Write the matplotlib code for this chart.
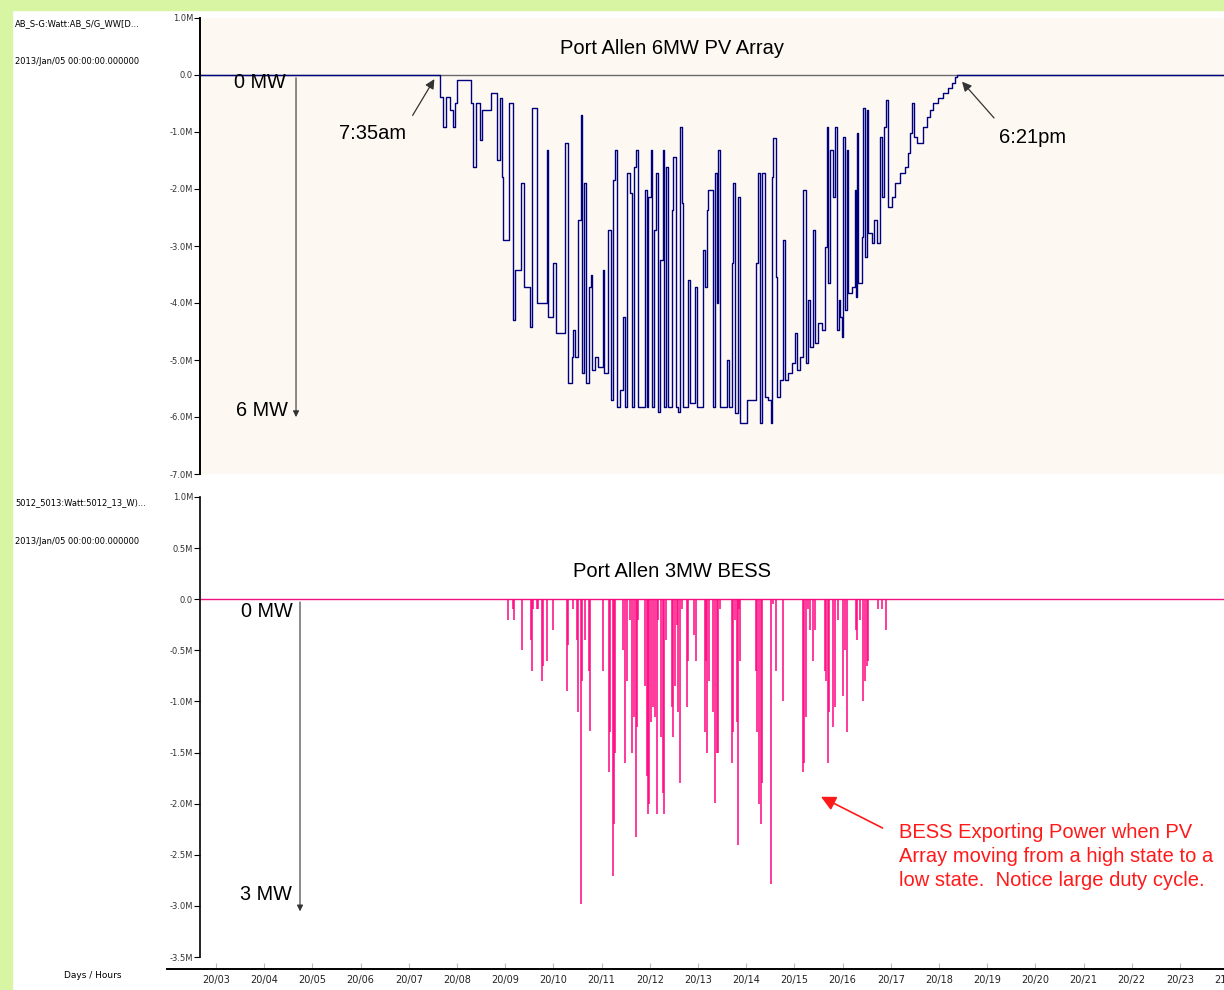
import matplotlib
matplotlib.use('Agg')
import matplotlib.pyplot as plt
from matplotlib.patches import Rectangle

# PV array output (MW, negative = generation)
pv_hour = [2.67, 7.585, 7.647, 7.710, 7.772, 7.855, 7.917, 7.959, 8.000, 8.249,
           8.290, 8.332, 8.394, 8.477, 8.519, 8.705, 8.830, 8.892, 8.934, 8.954,
           9.079, 9.162, 9.203, 9.328, 9.390, 9.515, 9.556, 9.660, 9.867, 9.888,
           9.992, 10.054, 10.178, 10.241, 10.303, 10.386, 10.407, 10.448, 10.510, 10.573,
           10.593, 10.635, 10.676, 10.739, 10.780, 10.801, 10.863, 10.925, 11.029, 11.050,
           11.133, 11.195, 11.237, 11.278, 11.320, 11.382, 11.444, 11.486, 11.527, 11.589,
           11.631, 11.672, 11.714, 11.755, 11.838, 11.900, 11.942, 11.963, 12.025, 12.046,
           12.087, 12.129, 12.170, 12.212, 12.274, 12.295, 12.336, 12.378, 12.461, 12.481,
           12.544, 12.585, 12.627, 12.668, 12.689, 12.793, 12.834, 12.938, 12.979, 13.104,
           13.145, 13.187, 13.207, 13.290, 13.311, 13.353, 13.394, 13.415, 13.456, 13.602,
           13.643, 13.705, 13.726, 13.768, 13.830, 13.871, 13.934, 14.017, 14.141, 14.203,
           14.245, 14.286, 14.328, 14.390, 14.452, 14.515, 14.535, 14.556, 14.618, 14.639,
           14.701, 14.763, 14.805, 14.867, 14.950, 15.012, 15.054, 15.116, 15.178, 15.241,
           15.282, 15.324, 15.386, 15.427, 15.490, 15.573, 15.635, 15.676, 15.697, 15.739,
           15.801, 15.842, 15.884, 15.925, 15.946, 15.988, 16.008, 16.050, 16.091, 16.112,
           16.195, 16.257, 16.278, 16.299, 16.320, 16.402, 16.423, 16.465, 16.506, 16.527,
           16.610, 16.651, 16.714, 16.776, 16.817, 16.859, 16.900, 16.942, 17.025, 17.087,
           17.191, 17.295, 17.357, 17.398, 17.440, 17.481, 17.544, 17.627, 17.668, 17.751,
           17.813, 17.876, 17.979, 18.083, 18.187, 18.270, 18.332, 18.373, 23.95]
pv_mw = [0.0, 0.0, -0.39, -0.91, -0.39, -0.61, -0.91, -0.49, -0.09, -0.09,
         -0.49, -1.61, -0.49, -1.14, -0.61, -0.32, -1.49, -0.40, -1.79, -2.89,
         -0.49, -4.30, -3.42, -1.89, -3.72, -4.42, -0.58, -4.00, -1.32, -4.25,
         -3.30, -4.53, -4.53, -1.19, -5.40, -4.95, -4.47, -4.95, -2.54, -0.70,
         -5.23, -1.89, -5.40, -3.72, -3.51, -5.18, -4.95, -5.12, -3.42, -5.23,
         -2.72, -5.70, -1.84, -1.32, -5.82, -5.53, -4.25, -5.82, -1.72, -2.07,
         -5.82, -1.61, -1.32, -5.82, -5.82, -2.02, -5.82, -2.14, -1.32, -5.82,
         -2.72, -1.72, -5.91, -3.25, -1.32, -5.82, -1.61, -5.82, -2.37, -1.44,
         -5.82, -5.91, -0.91, -2.25, -5.82, -3.60, -5.76, -3.72, -5.82, -3.07,
         -3.72, -2.37, -2.02, -2.02, -5.82, -1.72, -4.00, -1.32, -5.82, -5.00,
         -5.82, -3.30, -1.89, -5.93, -2.14, -6.10, -6.10, -5.70, -5.70, -3.30,
         -1.72, -6.10, -1.72, -5.65, -5.70, -6.10, -1.79, -1.11, -3.54, -5.65,
         -5.35, -2.89, -5.35, -5.23, -5.05, -4.53, -5.18, -4.95, -2.02, -5.05,
         -3.95, -4.77, -2.72, -4.70, -4.35, -4.47, -3.02, -0.91, -3.65, -1.32,
         -2.14, -0.91, -4.47, -3.95, -4.25, -4.60, -1.09, -4.12, -1.32, -3.82,
         -3.72, -2.02, -3.89, -1.02, -3.65, -2.84, -0.58, -3.19, -0.61, -2.77,
         -2.95, -2.54, -2.95, -1.09, -2.14, -0.91, -0.44, -2.32, -2.14, -1.89,
         -1.72, -1.61, -1.37, -1.02, -0.49, -1.09, -1.19, -1.19, -0.91, -0.74,
         -0.61, -0.49, -0.40, -0.32, -0.23, -0.14, -0.04, 0.0, 0.0]

# BESS export spikes (MW)
bess_hour = [9.058, 9.162, 9.183, 9.349, 9.535, 9.556, 9.577, 9.660, 9.680, 9.763,
             9.784, 9.867, 9.992, 10.282, 10.303, 10.407, 10.490, 10.510, 10.573, 10.593,
             10.656, 10.739, 10.759, 11.029, 11.154, 11.174, 11.237, 11.257, 11.278, 11.444,
             11.486, 11.527, 11.589, 11.631, 11.672, 11.714, 11.735, 11.755, 11.900, 11.942,
             11.963, 11.983, 12.025, 12.066, 12.108, 12.149, 12.170, 12.232, 12.274, 12.295,
             12.336, 12.461, 12.481, 12.523, 12.564, 12.585, 12.627, 12.668, 12.772, 12.793,
             12.917, 12.959, 13.145, 13.166, 13.187, 13.228, 13.311, 13.353, 13.394, 13.415,
             13.456, 13.705, 13.726, 13.768, 13.809, 13.830, 13.851, 13.871, 14.203, 14.224,
             14.266, 14.307, 14.328, 14.515, 14.556, 14.618, 14.763, 15.178, 15.199, 15.241,
             15.282, 15.324, 15.386, 15.427, 15.635, 15.656, 15.697, 15.718, 15.801, 15.842,
             15.905, 16.008, 16.050, 16.091, 16.278, 16.299, 16.361, 16.423, 16.465, 16.506,
             16.527, 16.734, 16.817, 16.900]
bess_mw = [-0.2, -0.1, -0.2, -0.5, -0.4, -0.7, -0.1, -0.1, -0.1, -0.8,
           -0.65, -0.6, -0.3, -0.9, -0.45, -0.1, -0.4, -1.1, -2.98, -0.8,
           -0.4, -0.7, -1.29, -0.7, -1.69, -1.3, -2.71, -2.2, -1.5, -0.5,
           -1.6, -0.8, -0.2, -1.5, -1.15, -2.33, -1.25, -0.2, -0.85, -1.73,
           -2.1, -2.0, -1.2, -1.05, -1.15, -2.1, -0.2, -1.35, -1.9, -2.1,
           -0.4, -1.05, -1.35, -0.85, -0.25, -1.1, -1.8, -0.1, -1.05, -0.6,
           -0.35, -0.6, -1.3, -0.6, -1.5, -0.8, -1.1, -1.99, -1.5, -1.5,
           -0.1, -1.6, -1.3, -0.2, -1.2, -2.4, -0.1, -0.6, -0.7, -1.3,
           -2.0, -2.2, -1.8, -2.79, -0.05, -0.7, -1.0, -1.69, -1.6, -1.15,
           -0.1, -0.3, -0.6, -0.3, -0.7, -0.8, -1.6, -1.1, -1.25, -1.05,
           -0.2, -0.95, -0.5, -1.3, -0.3, -0.4, -0.2, -1.0, -0.8, -0.65,
           -0.6, -0.1, -0.1, -0.3]

hours = list(range(3, 24))
hour_labels = ['20/%02d' % h for h in hours]
pv_yticks = [1, 0, -1, -2, -3, -4, -5, -6, -7]
pv_ylabels = ['1.0M', '0.0', '-1.0M', '-2.0M', '-3.0M', '-4.0M', '-5.0M', '-6.0M', '-7.0M']
bess_yticks = [1.0, 0.5, 0.0, -0.5, -1.0, -1.5, -2.0, -2.5, -3.0, -3.5]
bess_ylabels = ['1.0M', '0.5M', '0.0', '-0.5M', '-1.0M', '-1.5M', '-2.0M', '-2.5M', '-3.0M', '-3.5M']

plt.rcParams['font.family'] = ['Liberation Sans', 'DejaVu Sans']
small = ['Liberation Sans Narrow', 'DejaVu Sans']

W, H = 1224, 990
fig = plt.figure(figsize=(12.24, 9.9), dpi=100)
fig.patches.append(Rectangle((0, 0), 12 / W, 1, transform=fig.transFigure, color='#d8f5a4', zorder=0))
fig.patches.append(Rectangle((0, 1 - 10 / H), 1, 10 / H, transform=fig.transFigure, color='#d8f5a4', zorder=0))

xmin, xmax = 2.668, 23.913
ax1 = fig.add_axes([200 / W, 1 - 474 / H, 1024 / W, 456 / H])
ax2 = fig.add_axes([200 / W, 1 - 969 / H, 1024 / W, 472 / H])

# top panel: PV
ax1.set_facecolor('#fdf9f2')
ax1.axhline(0, color='#6a6a6a', lw=1, zorder=1)
ax1.plot(pv_hour, pv_mw, drawstyle='steps-post', color='#00007f', lw=1.0, zorder=2)
ax1.set_xlim(xmin, xmax)
ax1.set_ylim(-7, 1)
ax1.set_xticks([])
ax1.set_yticks(pv_yticks)
ax1.set_yticklabels(pv_ylabels, fontfamily=small, fontsize=6, color='#333333')
for s in ['top', 'right', 'bottom']:
    ax1.spines[s].set_visible(False)
ax1.spines['left'].set_linewidth(1.4)
ax1.tick_params(axis='y', direction='out', length=4, width=0.8, pad=1)

ax1.text(12.46, 0.47, 'Port Allen 6MW PV Array', ha='center', va='center', fontsize=14.5)
ax1.text(3.91, -0.14, '0 MW', ha='center', va='center', fontsize=14.3)
ax1.text(3.95, -5.88, '6 MW', ha='center', va='center', fontsize=14.3)
ax1.annotate('', xy=(4.66, -6.05), xytext=(4.66, 0.0),
             arrowprops=dict(arrowstyle='-|>', color='#333333', lw=0.8, mutation_scale=9))
ax1.text(6.24, -1.02, '7:35am', ha='center', va='center', fontsize=14.5)
ax1.annotate('', xy=(7.56, -0.03), xytext=(7.05, -0.75),
             arrowprops=dict(arrowstyle='-|>', color='#333333', lw=0.9, mutation_scale=14))
ax1.text(19.95, -1.1, '6:21pm', ha='center', va='center', fontsize=14.5)
ax1.annotate('', xy=(18.44, -0.08), xytext=(19.18, -0.79),
             arrowprops=dict(arrowstyle='-|>', color='#333333', lw=0.9, mutation_scale=14))

# bottom panel: BESS
ax2.axhline(0, color='#f0107f', lw=1, zorder=1)
ax2.vlines(bess_hour, 0, bess_mw, color='#ff0580', lw=1.1, zorder=2)
ax2.set_xlim(xmin, xmax)
ax2.set_ylim(-3.617, 1.0)
ax2.set_yticks(bess_yticks)
ax2.set_yticklabels(bess_ylabels, fontfamily=small, fontsize=6, color='#333333')
ax2.set_xticks(hours)
ax2.set_xticklabels(hour_labels, fontfamily=small, fontsize=7, color='#222222')
for s in ['top', 'right']:
    ax2.spines[s].set_visible(False)
ax2.spines['left'].set_bounds(-3.5, 1.0)
ax2.spines['left'].set_linewidth(1.2)
ax2.spines['bottom'].set_bounds(1.983, xmax)
ax2.spines['bottom'].set_linewidth(1.4)
ax2.tick_params(axis='y', direction='out', length=4, width=0.8, pad=1)
ax2.tick_params(axis='x', direction='in', length=4, width=0.8, color='#bbbbbb', pad=4)
# last hour label is cut by the right edge, as in the source screenshot
ax2.text(24, -3.672, '21/00', ha='center', va='top', fontfamily=small, fontsize=7,
         color='#222222', clip_on=False)

ax2.text(12.46, 0.27, 'Port Allen 3MW BESS', ha='center', va='center', fontsize=14.5)
ax2.text(4.06, -0.12, '0 MW', ha='center', va='center', fontsize=14.3)
ax2.text(4.04, -2.89, '3 MW', ha='center', va='center', fontsize=14.3)
ax2.annotate('', xy=(4.743, -3.08), xytext=(4.743, 0.0),
             arrowprops=dict(arrowstyle='-|>', color='#333333', lw=0.8, mutation_scale=9))
ax2.annotate('', xy=(15.50, -1.92), xytext=(16.88, -2.25),
             arrowprops=dict(arrowstyle='-|>', color='#ff1a1a', lw=1.2, mutation_scale=22))
ax2.text(17.17, -2.19, 'BESS Exporting Power when PV\nArray moving from a high state to a\nlow state.  Notice large duty cycle.',
         ha='left', va='top', fontsize=14.5, color='#ff1a1a', linespacing=1.33)

# left-hand channel labels
fig.text(15 / W, 1 - 24 / H, 'AB_S-G:Watt:AB_S/G_WW[D...', fontfamily=small, fontsize=6, va='center')
fig.text(15 / W, 1 - 62 / H, '2013/Jan/05 00:00:00.000000', fontfamily=small, fontsize=6, va='center')
fig.text(15 / W, 1 - 503 / H, '5012_5013:Watt:5012_13_W)...', fontfamily=small, fontsize=6, va='center')
fig.text(15 / W, 1 - 542 / H, '2013/Jan/05 00:00:00.000000', fontfamily=small, fontsize=6, va='center')
fig.text(93 / W, 1 - 975 / H, 'Days / Hours', fontfamily=small, fontsize=6.5, ha='center', va='center')

fig.savefig('out.png', dpi=100)
